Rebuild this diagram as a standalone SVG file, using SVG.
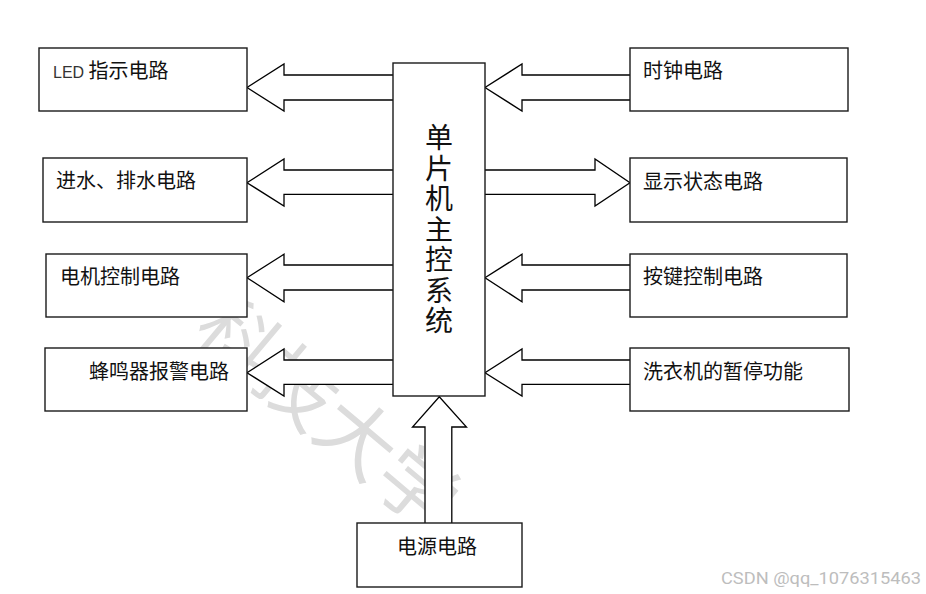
<svg xmlns="http://www.w3.org/2000/svg" width="926" height="594" viewBox="0 0 926 594">
<style>
.box{fill:#fff;stroke:#1a1a1a;stroke-width:1.4}
.arr{fill:#fff;stroke:#000;stroke-width:1.3;stroke-linejoin:miter}
.lbl{font-family:"Noto Sans CJK SC","Noto Sans",sans-serif;font-size:20px;fill:#111}
.lat{font-family:"Liberation Sans",Arial,sans-serif;font-size:16px;fill:#333}
.big{font-family:"Noto Sans CJK SC",sans-serif;font-size:28px;fill:#111;writing-mode:vertical-rl;letter-spacing:2.5px}
.wm{font-family:"Noto Sans CJK SC",sans-serif;font-size:78px;fill:#dcdcdc}
.csdn{font-family:Roboto,"Liberation Sans",sans-serif;font-size:17px;fill:#bdbdbd}
</style>
<rect width="926" height="594" fill="#fff"/>
<text class="wm" transform="translate(190,334) rotate(40)">科技大学</text>
<g id="connectors">
<path class="arr" d="M393,75 H284 V64 L247,87.5 L284,111 V100 H393"/>
<path class="arr" d="M393,170 H284 V159 L247,182.7 L284,206 V194.3 H393"/>
<path class="arr" d="M393,265 H284 V254.3 L247,277.7 L284,301.7 V290 H393"/>
<path class="arr" d="M393,360 H284 V349 L247,372.7 L284,396 V384.3 H393"/>
<path class="arr" d="M630,75 H522 V64 L485,87.5 L522,111 V100 H630"/>
<path class="arr" d="M484,170 H595 V159 L630,182.7 L595,206 V194.3 H484 Z"/>
<path class="arr" d="M630,265 H522 V254.3 L485,277.7 L522,301.7 V290 H630"/>
<path class="arr" d="M630,360 H522 V349 L485,372.7 L522,396 V384.3 H630"/>
<path class="arr" d="M425,523 V427 H412.5 L439.3,396.7 L466.5,427 H451.8 V523"/>
</g>
<g id="mcu">
<rect class="box" x="393" y="63" width="92" height="333"/>
<text class="big" x="439" y="123.5">单片机主控系统</text>
</g>
<g id="led">
<rect class="box" x="39" y="48" width="208" height="63"/>
<text class="lbl" x="53" y="78"><tspan class="lat">LED</tspan> 指示电路</text>
</g>
<g id="water">
<rect class="box" x="43" y="158" width="204" height="64"/>
<text class="lbl" x="56" y="188">进水、排水电路</text>
</g>
<g id="motor">
<rect class="box" x="46" y="254" width="201" height="63"/>
<text class="lbl" x="60" y="284">电机控制电路</text>
</g>
<g id="buzzer">
<rect class="box" x="45" y="348" width="202" height="63"/>
<text class="lbl" x="89" y="379">蜂鸣器报警电路</text>
</g>
<g id="clock">
<rect class="box" x="630" y="48" width="218" height="63"/>
<text class="lbl" x="643" y="78">时钟电路</text>
</g>
<g id="display">
<rect class="box" x="630" y="158" width="217" height="64"/>
<text class="lbl" x="643" y="189">显示状态电路</text>
</g>
<g id="keys">
<rect class="box" x="630" y="254" width="217" height="63"/>
<text class="lbl" x="643" y="284">按键控制电路</text>
</g>
<g id="pause">
<rect class="box" x="630" y="348" width="219" height="63"/>
<text class="lbl" x="643" y="379">洗衣机的暂停功能</text>
</g>
<g id="power">
<rect class="box" x="357" y="523" width="165" height="64"/>
<text class="lbl" x="397" y="554">电源电路</text>
</g>
<text class="csdn" x="721" y="584" textLength="200" lengthAdjust="spacingAndGlyphs">CSDN @qq_1076315463</text>
</svg>
